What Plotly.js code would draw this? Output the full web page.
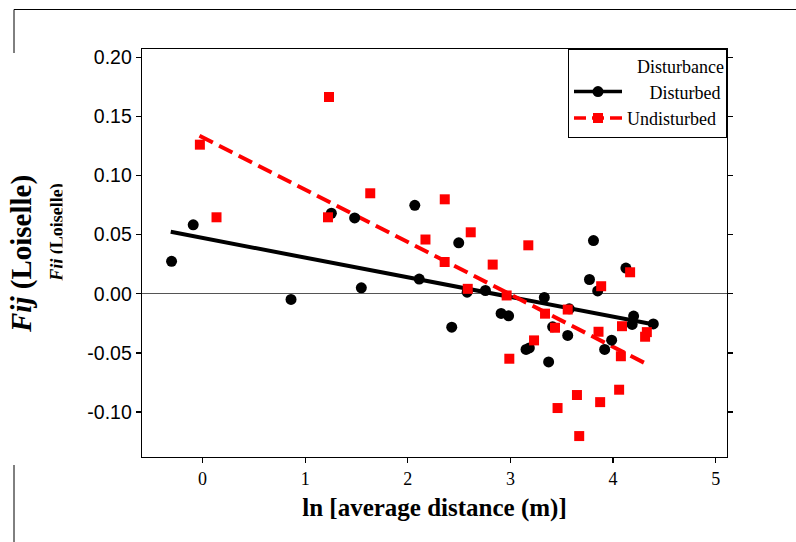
<!DOCTYPE html>
<html>
<head>
<meta charset="utf-8">
<script src="https://cdn.plot.ly/plotly-3.0.1.min.js"></script>
<style>html,body{margin:0;padding:0;background:#fff;}#chart{width:796px;height:542px;}</style>
</head>
<body>
<div id="chart"></div>
<script>
// ---- data ----
var disturbedX = [-0.302,-0.091,0.862,1.255,1.482,1.547,2.068,2.111,2.428,2.496,2.578,2.756,2.909,2.982,3.330,3.573,3.152,3.184,3.372,3.558,3.411,3.770,3.809,3.850,3.986,3.918,4.125,4.200,4.186,4.392];
var disturbedY = [0.0275,0.0583,-0.0048,0.0681,0.0642,0.0051,0.0748,0.0125,-0.0282,0.0431,0.0014,0.0028,-0.0166,-0.0186,-0.0031,-0.0127,-0.0470,-0.0458,-0.0576,-0.0352,-0.0279,0.0121,0.0450,0.0024,-0.0392,-0.0470,0.0218,-0.0188,-0.0259,-0.0255];
var undisturbedX = [-0.026,0.136,1.222,1.232,1.634,2.172,2.360,2.359,2.613,2.827,2.584,2.963,3.174,3.337,3.434,3.230,2.989,3.558,3.858,3.884,4.087,4.166,4.329,4.312,4.076,3.648,3.459,3.874,4.059,3.670];
var undisturbedY = [0.1261,0.0647,0.0647,0.1664,0.0850,0.0459,0.0799,0.0269,0.0520,0.0247,0.0042,-0.0014,0.0410,-0.0168,-0.0287,-0.0394,-0.0549,-0.0133,-0.0321,0.0064,-0.0274,0.0182,-0.0324,-0.0363,-0.0528,-0.0856,-0.0966,-0.0916,-0.0811,-0.1203];
var fitDisturbedX = [-0.31, 4.40];
var fitDisturbedY = [0.0524, -0.0260];
var fitUndisturbedX = [-0.03, 4.32];
var fitUndisturbedY = [0.1337, -0.0591];
var xTickVals = [0,1,2,3,4,5];
var xTickText = ['0','1','2','3','4','5'];
var yTickVals = [-0.10,-0.05,0.00,0.05,0.10,0.15,0.20];
var yTickText = ['-0.10','-0.05','0.00','0.05','0.10','0.15','0.20'];
var groupNames = ['Disturbed','Undisturbed'];
var legendTitle = 'Disturbance';
var xTitle = '<b>ln [average distance (m)]</b>';
var yTitle = '<b><i>Fij</i> (Loiselle)</b>';

var serif = 'Liberation Serif, Times New Roman, serif';
var sans = 'Liberation Sans, Arial, sans-serif';
var nb = '\u00a0';

var traces = [
  // legend entries
  {x:[null], y:[null], type:'scatter', mode:'lines+markers', name: nb+nb+nb+nb+nb+groupNames[0],
   line:{color:'#000', width:3.5}, marker:{symbol:'circle', size:11, color:'#000'}, hoverinfo:'skip'},
  {x:[null], y:[null], type:'scatter', mode:'lines+markers', name: groupNames[1],
   line:{color:'#ff0000', width:3.5, dash:'12px,6px'}, marker:{symbol:'square', size:10, color:'#ff0000'}, hoverinfo:'skip'},
  // regression lines
  {x:fitDisturbedX, y:fitDisturbedY, type:'scatter', mode:'lines', showlegend:false,
   line:{color:'#000', width:4}},
  {x:fitUndisturbedX, y:fitUndisturbedY, type:'scatter', mode:'lines', showlegend:false,
   line:{color:'#ff0000', width:4, dash:'15px,7px'}},
  // points
  {x:disturbedX, y:disturbedY, type:'scatter', mode:'markers', showlegend:false, name:groupNames[0],
   marker:{symbol:'circle', size:11, color:'#000'}},
  {x:undisturbedX, y:undisturbedY, type:'scatter', mode:'markers', showlegend:false, name:groupNames[1],
   marker:{symbol:'square', size:10, color:'#ff0000'}},
  // ghost axis carrier
  {x:[null], y:[null], yaxis:'y2', type:'scatter', mode:'markers', showlegend:false, hoverinfo:'skip'}
];

var W = 585, H = 408, L = 142, T = 49;
function px(x){ return (x - L) / W; }
function py(y){ return (T + H - y) / H; }

var layout = {
  width:796, height:542,
  margin:{l:142, r:69, t:49, b:85},
  paper_bgcolor:'#fff', plot_bgcolor:'#fff',
  font:{family:serif, color:'#000'},
  showlegend:true,
  xaxis:{
    range:[-0.59, 5.11], tickmode:'array', tickvals:xTickVals, ticktext:xTickText,
    ticks:'outside', ticklen:5, tickwidth:1.3, tickcolor:'#000',
    showline:true, linecolor:'#000', linewidth:1.3, mirror:true,
    showgrid:false, zeroline:false,
    tickfont:{family:serif, size:18, color:'#000'},
    title:{text:xTitle, font:{family:serif, size:25, color:'#000'}, standoff:10},
    automargin:false
  },
  yaxis:{
    range:[-0.138, 0.207], tickmode:'array', tickvals:yTickVals, ticktext:yTickText,
    ticks:'outside', ticklen:5, tickwidth:1.3, tickcolor:'#000',
    showline:true, linecolor:'#000', linewidth:1.3, mirror:'ticks',
    showgrid:false, zeroline:true, zerolinecolor:'#555', zerolinewidth:1,
    tickfont:{family:sans, size:19.5, color:'#000'},
    automargin:false
  },
  yaxis2:{
    overlaying:'y', anchor:'free', position:0, side:'left',
    range:[-0.138, 0.207], tickmode:'array', tickvals:[0.050], ticktext:[yTitle],
    tickangle:-90, ticks:'', showline:false, showgrid:false, zeroline:false,
    ticklabelstandoff:75,
    tickfont:{family:serif, size:18, color:'#000'}, automargin:false
  },
  legend:{
    x:1, xanchor:'right', y:1, yanchor:'top',
    bgcolor:'#fff', bordercolor:'#000', borderwidth:1,
    font:{family:serif, size:18, color:'#000'},
    title:{text:legendTitle, side:'top right', font:{family:serif, size:18, color:'#000'}},
    itemwidth:48, tracegroupgap:0
  },
  annotations:[
    {text:yTitle, xref:'paper', yref:'paper', x:px(21), y:py(254), xanchor:'center', yanchor:'middle',
     textangle:-90, showarrow:false, font:{family:serif, size:29, color:'#000'}}
  ],
  shapes:[
    {type:'line', xref:'paper', yref:'paper', x0:px(14), x1:px(796), y0:py(9.5), y1:py(9.5), line:{color:'#000', width:1}},
    {type:'line', xref:'paper', yref:'paper', x0:px(14), x1:px(14), y0:py(9.5), y1:py(53), line:{color:'#000', width:1}},
    {type:'line', xref:'paper', yref:'paper', x0:px(14), x1:px(14), y0:py(465), y1:py(542), line:{color:'#000', width:1}},
    {type:'rect', xref:'paper', yref:'paper', layer:'above', x0:px(62.5), x1:px(84), y0:py(160), y1:py(320), fillcolor:'#fff', line:{width:0}}
  ]
};

Plotly.newPlot('chart', traces, layout, {staticPlot:true, displayModeBar:false});
</script>
</body>
</html>
